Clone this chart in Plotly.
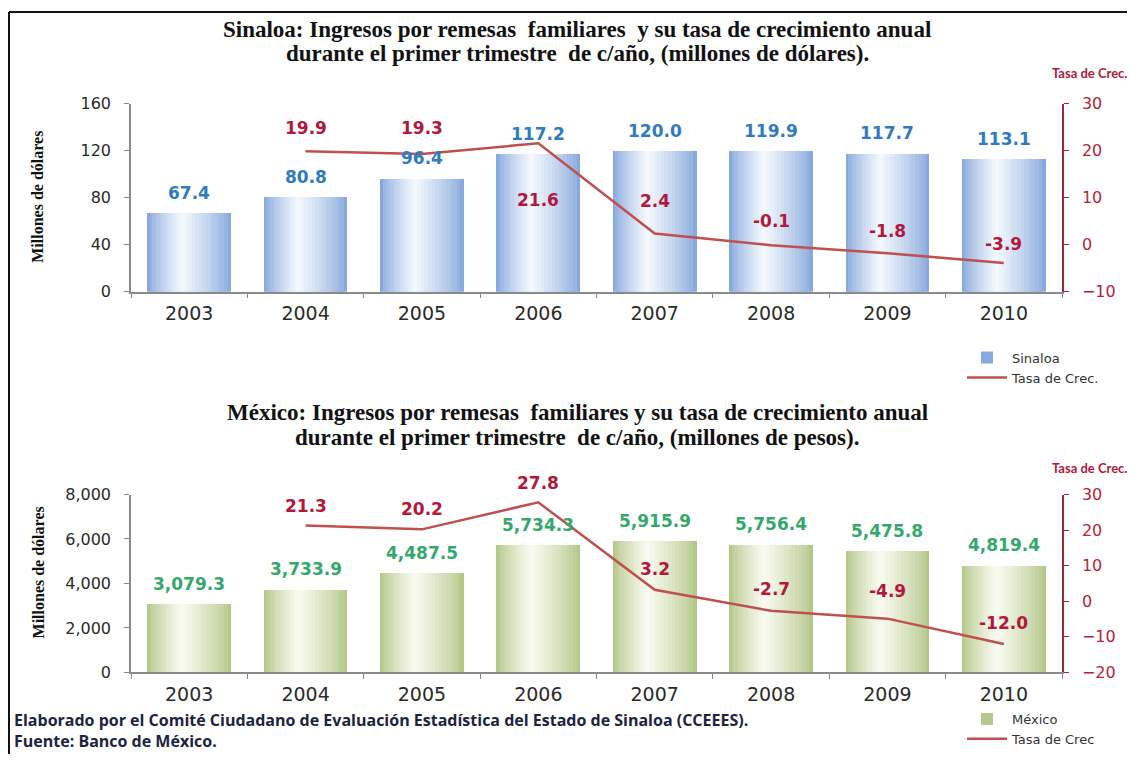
import plotly.graph_objects as go

# ---------------- data ----------------
years = ["2003", "2004", "2005", "2006", "2007", "2008", "2009", "2010"]
sinaloa = [67.4, 80.8, 96.4, 117.2, 120.0, 119.9, 117.7, 113.1]
sinaloa_growth = [None, 19.9, 19.3, 21.6, 2.4, -0.1, -1.8, -3.9]
mexico = [3079.3, 3733.9, 4487.5, 5734.3, 5915.9, 5756.4, 5475.8, 4819.4]
mexico_growth = [None, 21.3, 20.2, 27.8, 3.2, -2.7, -4.9, -12.0]

# label pixel offsets (style only)
sin_growth_shift = [0, 23, 26, -57, 32, 24, 22, 19]
mex_growth_shift = [0, 19, 20, 19, 21, 22, 28, 21]

# figure size and mapping from screen pixels to paper coordinates
W, H = 1119, 756
XOFF, YOFF, YS = 8, 16.5, 762 / 781
def px(x):
    return (x - XOFF) / W
def py(y):
    return 1 - (y / YS - YOFF) / H

fig = go.Figure()

def hexmix(c1, c2, t):
    a = [int(c1[i:i + 2], 16) for i in (1, 3, 5)]
    b = [int(c2[i:i + 2], 16) for i in (1, 3, 5)]
    return "#%02x%02x%02x" % tuple(round(a[i] + (b[i] - a[i]) * t) for i in range(3))

def gradient_bars(values, xa, ya, edge, center, name, legend):
    K = 14
    for k in range(K):
        t = k / (K - 1)
        w = 0.72 * (1 - t) + 0.04 * t
        c = -0.06 * t
        col = hexmix(edge, center, t ** 0.8)
        fig.add_trace(go.Bar(
            x=years, y=values, xaxis=xa, yaxis=ya,
            width=w, offset=c - w / 2,
            marker=dict(color=col, line=dict(width=0)),
            name=name, showlegend=(k == 0), legend=legend,
            hoverinfo="skip",
        ))

gradient_bars(sinaloa, "x", "y", "#88a9dd", "#f4f8fd", "Sinaloa", "legend")
fig.add_trace(go.Scatter(
    x=years, y=sinaloa_growth, xaxis="x", yaxis="y2", mode="lines",
    line=dict(color="#c0504d", width=2.5), name="Tasa de Crec.",
    legend="legend", connectgaps=False, hoverinfo="skip",
))
gradient_bars(mexico, "x2", "y3", "#b6c78a", "#f8faf0", "México", "legend2")
fig.add_trace(go.Scatter(
    x=years, y=mexico_growth, xaxis="x2", yaxis="y4", mode="lines",
    line=dict(color="#c0504d", width=2.5), name="Tasa de Crec",
    legend="legend2", connectgaps=False, hoverinfo="skip",
))

ann = []
lab_font = dict(family="DejaVu Sans", size=17)
for i, yr in enumerate(years):
    ann.append(dict(x=i, y=sinaloa[i], xref="x", yref="y", text="<b>%.1f</b>" % sinaloa[i],
                    showarrow=False, xanchor="center", yanchor="bottom", yshift=8,
                    font=dict(lab_font, color="#2f7bbf")))
    ann.append(dict(x=i, y=mexico[i], xref="x2", yref="y3", text="<b>{:,.1f}</b>".format(mexico[i]),
                    showarrow=False, xanchor="center", yanchor="bottom", yshift=8,
                    font=dict(lab_font, color="#34a86c")))
    if sinaloa_growth[i] is not None:
        ann.append(dict(x=i, y=sinaloa_growth[i], xref="x", yref="y2",
                        text="<b>%.1f</b>" % sinaloa_growth[i], showarrow=False,
                        xanchor="center", yanchor="middle", yshift=sin_growth_shift[i],
                        font=dict(lab_font, color="#b3183a")))
    if mexico_growth[i] is not None:
        ann.append(dict(x=i, y=mexico_growth[i], xref="x2", yref="y4",
                        text="<b>%.1f</b>" % mexico_growth[i], showarrow=False,
                        xanchor="center", yanchor="middle", yshift=mex_growth_shift[i],
                        font=dict(lab_font, color="#b3183a")))

title_font = dict(family="Liberation Serif", size=23, color="#111111")
titles = [
    (29, "Sinaloa: Ingresos por remesas  familiares  y su tasa de crecimiento anual"),
    (53, "durante el primer trimestre  de c/año, (millones de dólares)."),
    (412, "México: Ingresos por remesas  familiares y su tasa de crecimiento anual"),
    (437, "durante el primer trimestre  de c/año, (millones de pesos)."),
]
for yy, tt in titles:
    ann.append(dict(x=px(577), y=py(yy), xref="paper", yref="paper", showarrow=False,
                    text="<b>%s</b>" % tt, font=title_font, xanchor="center", yanchor="middle"))

def note(x, y, text, font, xanchor="center", angle=0, yanchor="middle"):
    return dict(x=px(x), y=py(y), xref="paper", yref="paper", showarrow=False,
                text=text, font=font, xanchor=xanchor, yanchor=yanchor, textangle=angle)

crec_font = dict(family="Lato", size=13, color="#b3183a")
ylab_font = dict(family="Liberation Serif", size=16, color="#111")
foot_font = dict(family="Open Sans", size=16, color="#1c2440")
ann += [
    note(1089, 72, "<b>Tasa de Crec.</b>", crec_font),
    note(1089, 467, "<b>Tasa de Crec.</b>", crec_font),
    note(38, 196, "<b>Millones de dólares</b>", ylab_font, angle=-90),
    note(38, 572, "<b>Millones de dólares</b>", ylab_font, angle=-90),
    dict(x=px(12), y=0, xref="paper", yref="paper", showarrow=False, align="left",
         text="<b>Elaborado por el Comité Ciudadano de Evaluación Estadística del Estado de Sinaloa (CCEEES).</b>"
              "<br><b>Fuente: Banco de México.</b>",
         font=foot_font, xanchor="left", yanchor="bottom"),
    note(980, 1, "<b>Gráfica No.  1</b>", dict(family="Liberation Serif", size=18, color="#111"),
         xanchor="left"),
]

axis_common = dict(showgrid=False, zeroline=False, showline=True, linecolor="#8a8a8a",
                   linewidth=1.5, ticks="outside", ticklen=5, tickcolor="#8a8a8a")
right_common = dict(showgrid=False, zeroline=False, showline=True, linecolor="#a8243a",
                    linewidth=1.5, ticks="outside", ticklen=5, tickcolor="#a8243a",
                    tickfont=dict(family="DejaVu Sans", size=16, color="#b3243a"),
                    side="right", ticklabelstandoff=10)
xt_font = dict(family="DejaVu Sans", size=19, color="#2a2a2a")
yt_font = dict(family="DejaVu Sans", size=16, color="#2a2a2a")

top_dom = [py(291), py(103)]
bot_dom = [py(672), py(494)]
xdom = [px(131), px(1062)]

fig.update_layout(
    width=W, height=H, margin=dict(l=0, r=0, t=0, b=0),
    paper_bgcolor="white", plot_bgcolor="rgba(0,0,0,0)",
    barmode="overlay", bargap=0,
    xaxis=dict(axis_common, type="category", domain=xdom, anchor="y", range=[-0.5, 7.5],
               tickson="boundaries", tickfont=xt_font, ticklabelstandoff=4),
    yaxis=dict(axis_common, domain=top_dom, anchor="x", range=[0, 160], dtick=40,
               tickfont=yt_font, ticklabelstandoff=10),
    yaxis2=dict(right_common, overlaying="y", anchor="x", range=[-10, 30], dtick=10),
    xaxis2=dict(axis_common, type="category", domain=xdom, anchor="y3", range=[-0.5, 7.5],
                tickson="boundaries", tickfont=xt_font, ticklabelstandoff=4),
    yaxis3=dict(axis_common, domain=bot_dom, anchor="x2", range=[0, 8000], dtick=2000,
                tickformat=",", tickfont=yt_font, ticklabelstandoff=10),
    yaxis4=dict(right_common, overlaying="y3", anchor="x2", range=[-20, 30], dtick=10),
    legend=dict(x=px(962), y=py(342), xanchor="left", yanchor="top", bgcolor="rgba(0,0,0,0)",
                font=dict(family="DejaVu Sans", size=13, color="#333"), tracegroupgap=0,
                itemwidth=40),
    legend2=dict(x=px(962), y=0, xanchor="left", yanchor="bottom", bgcolor="rgba(0,0,0,0)",
                 font=dict(family="DejaVu Sans", size=13, color="#333"), tracegroupgap=0,
                 itemwidth=40),
    annotations=ann,
    shapes=[
        dict(type="line", xref="paper", yref="paper", x0=px(9), x1=1, y0=py(11), y1=py(11),
             line=dict(color="#111", width=2), layer="below"),
        dict(type="line", xref="paper", yref="paper", x0=px(9), x1=px(9), y0=0, y1=py(11),
             line=dict(color="#111", width=2), layer="below"),
    ],
    showlegend=True,
)

fig.write_html("out.html")
